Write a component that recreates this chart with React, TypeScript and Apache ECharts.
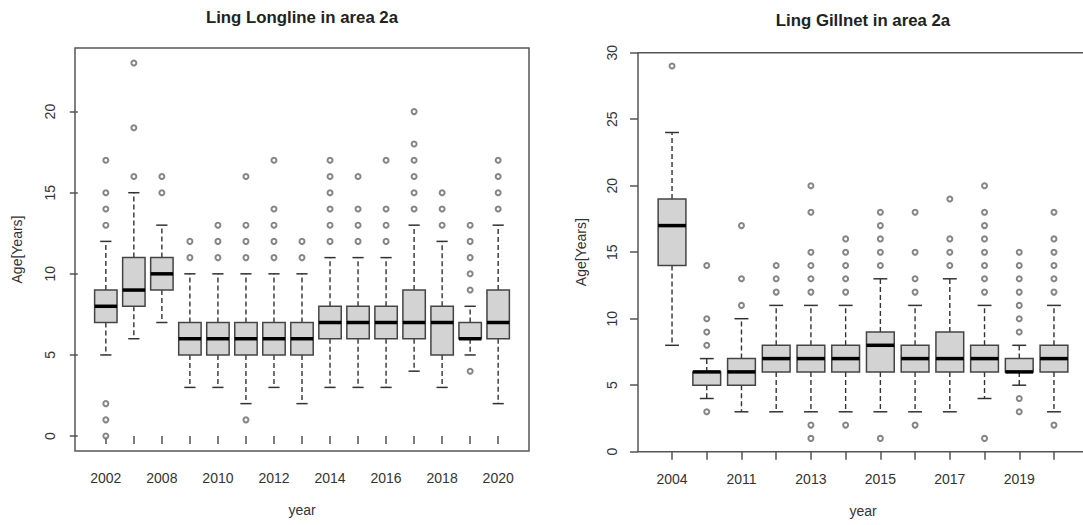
import React, { useEffect, useRef } from "react";
import * as echarts from "echarts";

// ---- Ling Longline in area 2a ----
const LL_YEARS = ["2002", "2007", "2008", "2009", "2010", "2011", "2012", "2013", "2014", "2015", "2016", "2017", "2018", "2019", "2020"];
const LL_LO = [5, 6, 7, 3, 3, 2, 3, 2, 3, 3, 3, 4, 3, 5, 2];
const LL_Q1 = [7, 8, 9, 5, 5, 5, 5, 5, 6, 6, 6, 6, 5, 6, 6];
const LL_MED = [8, 9, 10, 6, 6, 6, 6, 6, 7, 7, 7, 7, 7, 6, 7];
const LL_Q3 = [9, 11, 11, 7, 7, 7, 7, 7, 8, 8, 8, 9, 8, 7, 9];
const LL_HI = [12, 15, 13, 10, 10, 10, 10, 10, 11, 11, 11, 13, 12, 8, 13];
const LL_OUT = [
  [0, 1, 2, 13, 14, 15, 17],
  [16, 19, 23],
  [15, 16],
  [11, 12],
  [11, 12, 13],
  [1, 11, 12, 13, 16],
  [11, 12, 13, 14, 17],
  [11, 12],
  [12, 13, 14, 15, 16, 17],
  [12, 13, 14, 16],
  [12, 13, 14, 17],
  [14, 15, 16, 17, 18, 20],
  [13, 14, 15],
  [4, 9, 10, 11, 12, 13],
  [14, 15, 16, 17],
];
const LL_YTICKS = [0, 5, 10, 15, 20];

// ---- Ling Gillnet in area 2a ----
const GN_YEARS = ["2004", "2010", "2011", "2012", "2013", "2014", "2015", "2016", "2017", "2018", "2019", "2020"];
const GN_LO = [8, 4, 3, 3, 3, 3, 3, 3, 3, 4, 5, 3];
const GN_Q1 = [14, 5, 5, 6, 6, 6, 6, 6, 6, 6, 6, 6];
const GN_MED = [17, 6, 6, 7, 7, 7, 8, 7, 7, 7, 6, 7];
const GN_Q3 = [19, 6, 7, 8, 8, 8, 9, 8, 9, 8, 7, 8];
const GN_HI = [24, 7, 10, 11, 11, 11, 13, 11, 13, 11, 8, 11];
const GN_OUT = [
  [29],
  [3, 8, 9, 10, 14],
  [11, 13, 17],
  [12, 13, 14],
  [1, 2, 12, 13, 14, 15, 18, 20],
  [2, 12, 13, 14, 15, 16],
  [1, 14, 15, 16, 17, 18],
  [2, 12, 13, 15, 18],
  [14, 15, 16, 19],
  [1, 12, 13, 14, 15, 16, 17, 18, 20],
  [3, 4, 9, 10, 11, 12, 13, 14, 15],
  [2, 12, 13, 14, 15, 16, 18],
];
const GN_YTICKS = [0, 5, 10, 15, 20, 25, 30];

const FONT = "'Liberation Sans', Arial, sans-serif";
const TXT = "#333";
const FRAME = "#555";

function boxData(lo: number[], q1: number[], med: number[], q3: number[], hi: number[]) {
  return lo.map((_, i) => [i + 1, lo[i], q1[i], med[i], q3[i], hi[i]]);
}
function outData(out: number[][]) {
  const r: number[][] = [];
  out.forEach((arr, i) => arr.forEach((v) => r.push([i + 1, v])));
  return r;
}
function positions(n: number) {
  return Array.from({ length: n }, (_, i) => i + 1);
}

function renderBox(params: any, api: any) {
  const x = api.value(0);
  const lo = api.coord([x, api.value(1)]);
  const q1 = api.coord([x, api.value(2)]);
  const md = api.coord([x, api.value(3)]);
  const q3 = api.coord([x, api.value(4)]);
  const hi = api.coord([x, api.value(5)]);
  const hw = api.size([0.8, 0])[0] / 2;
  const cx = lo[0];
  const whisk = { stroke: "#333", lineWidth: 1.4, lineDash: [5, 3] };
  const solid = { stroke: "#333", lineWidth: 1.5 };
  return {
    type: "group",
    children: [
      { type: "line", shape: { x1: cx, y1: q3[1], x2: cx, y2: hi[1] }, style: whisk },
      { type: "line", shape: { x1: cx, y1: q1[1], x2: cx, y2: lo[1] }, style: whisk },
      { type: "line", shape: { x1: cx - hw / 2, y1: hi[1], x2: cx + hw / 2, y2: hi[1] }, style: solid },
      { type: "line", shape: { x1: cx - hw / 2, y1: lo[1], x2: cx + hw / 2, y2: lo[1] }, style: solid },
      {
        type: "rect",
        shape: { x: cx - hw, y: q3[1], width: hw * 2, height: q1[1] - q3[1] },
        style: { fill: "#d3d3d3", stroke: "#444", lineWidth: 1.5 },
      },
      { type: "line", shape: { x1: cx - hw, y1: md[1], x2: cx + hw, y2: md[1] }, style: { stroke: "#000", lineWidth: 3.5 } },
    ],
  };
}

function xAxisFor(gridIndex: number, years: string[], min: number, max: number) {
  const pos = positions(years.length);
  return {
    type: "value",
    gridIndex,
    min,
    max,
    splitLine: { show: false },
    axisLine: { show: false },
    axisTick: { show: true, customValues: pos, length: 8, lineStyle: { color: FRAME, width: 1.5 } },
    axisLabel: {
      customValues: pos.filter((p) => p % 2 === 1),
      formatter: (v: number) => years[Math.round(v) - 1] || "",
      fontSize: 14,
      color: TXT,
      fontFamily: FONT,
      margin: 20,
    },
    name: "year",
    nameLocation: "middle",
    nameGap: 52,
    nameTextStyle: { fontSize: 14, color: TXT, fontFamily: FONT },
  };
}

function yAxisFor(gridIndex: number, ticks: number[], min: number, max: number, margin: number, nameGap: number) {
  return {
    type: "value",
    gridIndex,
    min,
    max,
    splitLine: { show: false },
    axisLine: { show: false },
    axisTick: { show: true, customValues: ticks, length: 8, lineStyle: { color: FRAME, width: 1.5 } },
    axisLabel: {
      customValues: ticks,
      rotate: 90,
      fontSize: 14,
      color: TXT,
      fontFamily: FONT,
      margin,
    },
    name: "Age[Years]",
    nameLocation: "middle",
    nameRotate: 90,
    nameGap,
    nameTextStyle: { fontSize: 14, color: TXT, fontFamily: FONT },
  };
}

export default function App() {
  const ref = useRef<HTMLDivElement>(null);
  useEffect(() => {
    document.body.style.margin = "0";
    if (!ref.current) return;
    const chart = echarts.init(ref.current, undefined, { renderer: "svg" });
    const titleStyle = (text: string) => ({
      text,
      fill: "#222",
      font: `bold 16.8px ${FONT}`,
      align: "center",
      verticalAlign: "middle",
      textAlign: "center",
      textVerticalAlign: "middle",
    });
    const gridBase = {
      show: true,
      borderColor: FRAME,
      borderWidth: 1.5,
      backgroundColor: "transparent",
      containLabel: false,
      outerBoundsMode: "none",
    };
    chart.setOption({
      animation: false,
      backgroundColor: "#fff",
      grid: [
        { ...gridBase, left: 75, top: 48, width: 454, height: 403 },
        { ...gridBase, left: 638, top: 52.7, width: 450, height: 399 },
      ],
      xAxis: [xAxisFor(0, LL_YEARS, -0.1, 16.1), xAxisFor(1, GN_YEARS, 0.02, 12.98)],
      yAxis: [yAxisFor(0, LL_YTICKS, -0.92, 23.92, 18, 51), yAxisFor(1, GN_YTICKS, 0, 30, 19, 50)],
      graphic: [
        { type: "text", x: 302, y: 17, style: titleStyle("Ling Longline in area 2a") },
        { type: "text", x: 863, y: 20, style: titleStyle("Ling Gillnet in area 2a") },
      ],
      series: [
        {
          type: "custom",
          xAxisIndex: 0,
          yAxisIndex: 0,
          data: boxData(LL_LO, LL_Q1, LL_MED, LL_Q3, LL_HI),
          encode: { x: 0, y: [1, 2, 3, 4, 5] },
          renderItem: renderBox,
          silent: true,
        },
        {
          type: "scatter",
          xAxisIndex: 0,
          yAxisIndex: 0,
          data: outData(LL_OUT),
          symbol: "emptyCircle",
          symbolSize: 5,
          itemStyle: { color: "#666", borderWidth: 1 },
          silent: true,
        },
        {
          type: "custom",
          xAxisIndex: 1,
          yAxisIndex: 1,
          data: boxData(GN_LO, GN_Q1, GN_MED, GN_Q3, GN_HI),
          encode: { x: 0, y: [1, 2, 3, 4, 5] },
          renderItem: renderBox,
          silent: true,
        },
        {
          type: "scatter",
          xAxisIndex: 1,
          yAxisIndex: 1,
          data: outData(GN_OUT),
          symbol: "emptyCircle",
          symbolSize: 5,
          itemStyle: { color: "#666", borderWidth: 1 },
          silent: true,
        },
      ],
    });
    return () => chart.dispose();
  }, []);
  return <div ref={ref} style={{ width: 1083, height: 525 }} />;
}
